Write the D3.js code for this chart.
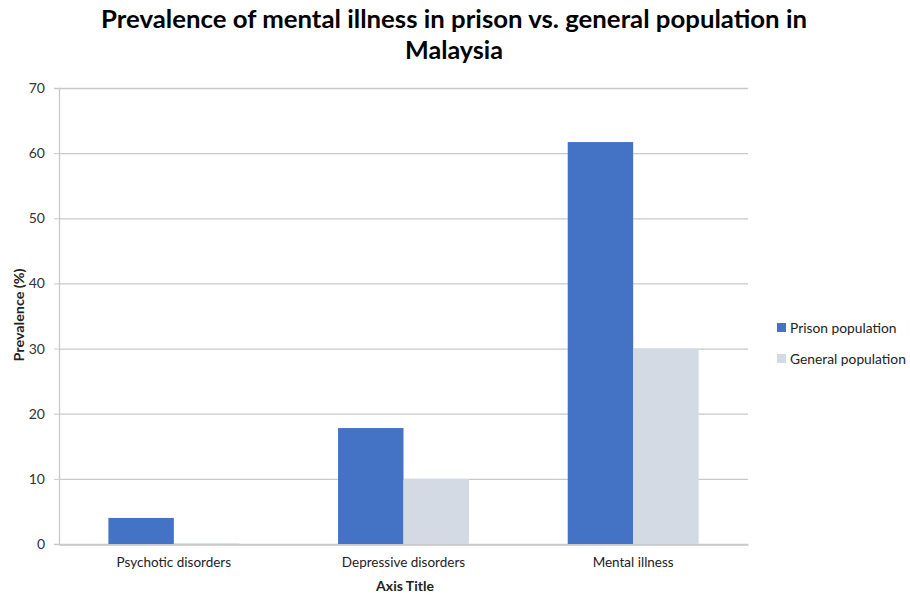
<!DOCTYPE html>
<html>
<head>
<meta charset="utf-8">
<script src="https://cdn.jsdelivr.net/npm/d3@7"></script>
<style>
  body { margin: 0; background: #fff; }
  svg { display: block; font-family: Lato, 'Open Sans', sans-serif; }
</style>
</head>
<body>
<svg id="chart" width="910" height="596"></svg>
<script>
const categories = ['Psychotic disorders', 'Depressive disorders', 'Mental illness'];
const seriesNames = ['Prison population', 'General population'];
const prisonValues = [4.0, 17.8, 61.7];
const generalValues = [0.1, 10.0, 30.0];
const yTicks = [0, 10, 20, 30, 40, 50, 60, 70];
const colors = ['#4472c4', '#d3dae4'];

const margin = { top: 88, left: 59, right: 162, bottom: 52 };
const width = 910;
const height = 596;

const svg = d3.select('#chart');

const x0 = d3.scaleBand()
  .domain(categories)
  .range([margin.left, width - margin.right])
  .paddingInner(0.43)
  .paddingOuter(0.215);

const x1 = d3.scaleBand()
  .domain(seriesNames)
  .range([0, x0.bandwidth()]);

const y = d3.scaleLinear()
  .domain([0, 70])
  .range([height - margin.bottom, margin.top]);

// gridlines
svg.append('g')
  .selectAll('line')
  .data(yTicks)
  .join('line')
  .attr('x1', margin.left)
  .attr('x2', width - margin.right)
  .attr('y1', (d) => y(d) + 0.5)
  .attr('y2', (d) => y(d) + 0.5)
  .attr('stroke', '#c9c9c9')
  .attr('stroke-width', 1.3);

// bars
const rows = categories.map((c, i) => ({
  category: c,
  values: [prisonValues[i], generalValues[i]],
}));

svg.append('g')
  .selectAll('g')
  .data(rows)
  .join('g')
  .attr('transform', (d) => `translate(${x0(d.category)},0)`)
  .selectAll('rect')
  .data((d) => d.values.map((v, i) => ({ name: seriesNames[i], value: v, color: colors[i] })))
  .join('rect')
  .attr('x', (d) => x1(d.name))
  .attr('y', (d) => y(d.value))
  .attr('width', x1.bandwidth())
  .attr('height', (d) => y(0) - y(d.value))
  .attr('fill', (d) => d.color);

// y axis
const yAxis = svg.append('g')
  .attr('transform', `translate(${margin.left},0)`)
  .call(d3.axisLeft(y).tickValues(yTicks).tickSize(5).tickPadding(9));
yAxis.select('.domain').attr('stroke', '#c9c9c9').attr('stroke-width', 1.3);
yAxis.selectAll('.tick line').attr('stroke', '#c9c9c9');
yAxis.selectAll('.tick text')
  .attr('font-size', 14)
  .attr('font-family', 'Lato, sans-serif')
  .attr('fill', '#333');

// x axis
const xAxis = svg.append('g')
  .attr('transform', `translate(0,${height - margin.bottom + 0.5})`)
  .call(d3.axisBottom(x0).tickSize(0).tickPadding(13));
xAxis.select('.domain').attr('stroke', '#c9c9c9').attr('stroke-width', 1.3);
xAxis.selectAll('.tick text')
  .attr('font-size', 13.5)
  .attr('font-family', 'Lato, sans-serif')
  .attr('fill', '#222');

// axis titles
svg.append('text')
  .attr('x', 405)
  .attr('y', 591)
  .attr('text-anchor', 'middle')
  .attr('font-size', 14)
  .attr('font-weight', 'bold')
  .attr('fill', '#222')
  .text('Axis Title');

svg.append('text')
  .attr('transform', `translate(24,${y(35) - 1}) rotate(-90)`)
  .attr('text-anchor', 'middle')
  .attr('font-size', 14)
  .attr('font-weight', 'bold')
  .attr('fill', '#222')
  .attr('textLength', 93)
  .attr('lengthAdjust', 'spacingAndGlyphs')
  .text('Prevalence (%)');

// title
const titleLines = ['Prevalence of mental illness in prison vs. general population in', 'Malaysia'];
const titleWidths = [706, 98];
svg.append('text')
  .attr('text-anchor', 'middle')
  .attr('font-size', 25)
  .attr('font-weight', 'bold')
  .attr('fill', '#000')
  .selectAll('tspan')
  .data(titleLines)
  .join('tspan')
  .attr('x', 454)
  .attr('y', (d, i) => 28 + i * 31)
  .attr('textLength', (d, i) => titleWidths[i])
  .attr('lengthAdjust', 'spacingAndGlyphs')
  .text((d) => d);

// legend
const legend = svg.append('g')
  .attr('transform', 'translate(777,328)')
  .selectAll('g')
  .data(seriesNames)
  .join('g')
  .attr('transform', (d, i) => `translate(0,${i * 31})`);

legend.append('rect')
  .attr('x', 0)
  .attr('y', -5)
  .attr('width', 9)
  .attr('height', 9)
  .attr('fill', (d, i) => colors[i]);

legend.append('text')
  .attr('x', 13)
  .attr('y', 5)
  .attr('font-size', 13.8)
  .attr('fill', '#222')
  .text((d) => d);
</script>
</body>
</html>
